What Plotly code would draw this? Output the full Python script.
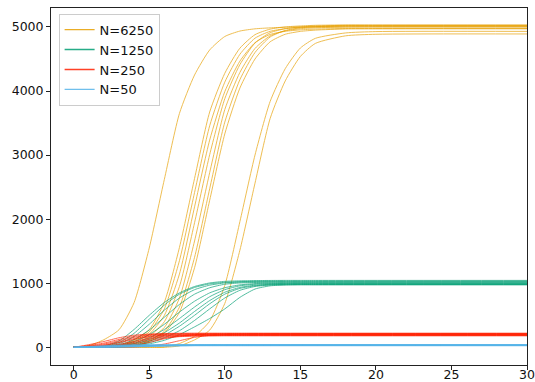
import plotly.graph_objects as go

# time grids
t_orange = [0, 1, 2, 3, 4, 5, 6, 7, 8, 9, 10, 11, 12, 13, 14, 15, 16, 18, 20, 30]
t_green = [0, 1, 2, 3, 4, 5, 6, 7, 8, 9, 10, 11, 12, 13, 14, 15, 16, 30]
t_small = [0, 1, 2, 3, 4, 5, 6, 7, 8, 9, 10, 11, 12, 30]

# N=6250 runs
n6250 = [
    [1, 25, 120, 275, 700, 1550, 2620, 3650, 4250, 4640, 4850, 4935, 4970, 4985, 4995, 5000, 5000, 5000, 5000, 5000],
    [1, 1, 1, 25, 121, 277, 704, 1559, 2636, 3672, 4276, 4668, 4879, 4965, 5000, 5015, 5025, 5030, 5030, 5030],
    [1, 1, 1, 18, 100, 241, 601, 1353, 2417, 3457, 4138, 4573, 4824, 4931, 4973, 4992, 5003, 5010, 5010, 5010],
    [1, 1, 1, 11, 80, 206, 498, 1144, 2193, 3234, 3990, 4466, 4754, 4882, 4931, 4954, 4966, 4975, 4975, 4975],
    [1, 1, 1, 6, 57, 170, 400, 950, 1945, 3006, 3879, 4412, 4748, 4909, 4972, 5000, 5014, 5025, 5025, 5025],
    [1, 1, 1, 2, 34, 134, 310, 770, 1660, 2726, 3710, 4290, 4664, 4860, 4939, 4972, 4986, 4998, 5000, 5000],
    [1, 1, 1, 1, 20, 105, 251, 628, 1406, 2474, 3514, 4177, 4601, 4842, 4945, 4985, 5003, 5020, 5020, 5020],
    [1, 1, 1, 1, 15, 89, 223, 547, 1243, 2294, 3330, 4046, 4499, 4767, 4885, 4930, 4950, 4968, 4970, 4970],
    [1, 1, 1, 1, 1, 1, 7, 60, 174, 409, 966, 1962, 3001, 3836, 4348, 4670, 4822, 4906, 4927, 4930],
    [1, 1, 1, 1, 1, 1, 1, 24, 117, 269, 685, 1516, 2562, 3570, 4157, 4538, 4743, 4861, 4885, 4890],
]

# N=1250 runs
n1250 = [
    [1, 4, 22, 100, 280, 500, 700, 850, 950, 1005, 1030, 1038, 1042, 1044, 1045, 1045, 1045, 1045],
    [1, 3, 15, 75, 220, 440, 660, 830, 935, 990, 1015, 1025, 1030, 1032, 1033, 1033, 1033, 1033],
    [1, 3, 12, 55, 170, 360, 580, 770, 900, 970, 1005, 1018, 1022, 1024, 1025, 1025, 1025, 1025],
    [1, 2, 10, 40, 120, 270, 470, 670, 830, 930, 985, 1005, 1012, 1015, 1015, 1015, 1015, 1015],
    [1, 2, 8, 30, 90, 200, 360, 550, 720, 850, 930, 975, 995, 1003, 1005, 1005, 1005, 1005],
    [1, 2, 6, 22, 65, 150, 280, 450, 630, 790, 900, 960, 985, 995, 998, 1000, 1000, 1000],
    [1, 2, 5, 18, 55, 120, 230, 380, 560, 730, 860, 935, 970, 985, 990, 992, 992, 992],
    [1, 2, 4, 14, 40, 95, 190, 330, 500, 680, 830, 920, 960, 978, 983, 985, 985, 985],
    [1, 1, 3, 10, 30, 75, 150, 260, 420, 600, 770, 890, 950, 972, 978, 980, 980, 980],
    [1, 1, 3, 8, 22, 55, 110, 200, 320, 450, 600, 780, 910, 960, 972, 975, 975, 975],
]

# N=250 runs
n250 = [
    [1, 42, 92, 150, 190, 208, 216, 220, 222, 222, 222, 222, 222, 222],
    [1, 29, 67, 124, 172, 198, 209, 213, 214, 215, 215, 215, 215, 215],
    [1, 20, 52, 104, 156, 188, 201, 206, 207, 208, 208, 208, 208, 208],
    [1, 15, 39, 84, 137, 173, 190, 196, 199, 200, 200, 200, 200, 200],
    [1, 11, 31, 72, 123, 163, 184, 191, 194, 195, 195, 195, 195, 195],
    [1, 7, 19, 48, 95, 143, 171, 183, 188, 189, 190, 190, 190, 190],
    [1, 5, 14, 36, 77, 127, 160, 176, 182, 184, 185, 185, 185, 185],
    [1, 3, 9, 24, 57, 104, 145, 167, 175, 178, 180, 180, 180, 180],
    [1, 1, 4, 13, 33, 76, 134, 175, 197, 206, 210, 212, 212, 212],
    [1, 1, 1, 2, 7, 21, 52, 104, 156, 187, 200, 203, 204, 204],
]

# N=50 runs
n50 = [
    [1, 15, 25, 34, 38, 40, 41, 42, 42, 42, 42, 42, 42, 42],
    [1, 10, 20, 30, 35, 37, 38, 38, 38, 38, 38, 38, 38, 38],
    [1, 7, 15, 24, 30, 33, 34, 35, 35, 35, 35, 35, 35, 35],
    [1, 5, 12, 20, 27, 31, 32, 32, 32, 32, 32, 32, 32, 32],
    [1, 4, 9, 16, 23, 27, 29, 30, 30, 30, 30, 30, 30, 30],
    [1, 3, 7, 13, 20, 25, 27, 28, 28, 28, 28, 28, 28, 28],
    [1, 2, 5, 10, 17, 23, 30, 34, 36, 37, 37, 37, 37, 37],
    [1, 2, 4, 8, 13, 19, 23, 25, 26, 26, 26, 26, 26, 26],
    [1, 1, 3, 6, 11, 18, 26, 32, 36, 39, 40, 40, 40, 40],
    [1, 1, 2, 4, 7, 12, 18, 24, 29, 32, 33, 33, 33, 33],
]

labels = ["N=6250", "N=1250", "N=250", "N=50"]
colors = ["#E69F00", "#009E73", "#FF2000", "#56B4E9"]
groups = [(t_orange, n6250), (t_green, n1250), (t_small, n250), (t_small, n50)]

x_ticks = [0, 5, 10, 15, 20, 25, 30]
y_ticks = [0, 1000, 2000, 3000, 4000, 5000]

fig = go.Figure()
for label, color, (tt, runs) in zip(labels, colors, groups):
    for run in runs:
        fig.add_trace(go.Scatter(
            x=tt, y=run, mode="lines", name=label, showlegend=False,
            line=dict(color=color, width=0.9, shape="spline", smoothing=0.6),
            opacity=0.75,
        ))

# legend-only entries (no data)
for label, color in zip(labels, colors):
    fig.add_trace(go.Scatter(
        x=[None], y=[None], mode="lines", name=label, showlegend=True,
        line=dict(color=color, width=1.4), opacity=0.85,
    ))

axis_common = dict(
    showgrid=False, zeroline=False, showline=True, linecolor="#222222",
    linewidth=1, mirror=True, ticks="outside", ticklen=4, tickwidth=1,
    tickcolor="#222222", automargin=False,
    tickfont=dict(family="DejaVu Sans", size=12.5, color="#111111"),
)

fig.update_layout(
    width=535, height=382,
    margin=dict(l=51, r=8, t=8, b=17),
    paper_bgcolor="white", plot_bgcolor="white",
    font=dict(family="DejaVu Sans", size=12, color="#111111"),
    showlegend=True,
    legend=dict(
        x=0.016, y=0.984, xanchor="left", yanchor="top",
        bgcolor="rgba(255,255,255,0.8)", bordercolor="#cccccc", borderwidth=1,
        font=dict(family="DejaVu Sans", size=13, color="#111111"),
    ),
    xaxis=dict(range=[-1.5, 30], tickvals=x_ticks, ticklabelstandoff=-6, **axis_common),
    yaxis=dict(range=[-275, 5295], tickvals=y_ticks, **axis_common),
)

fig.write_html("out.html")
